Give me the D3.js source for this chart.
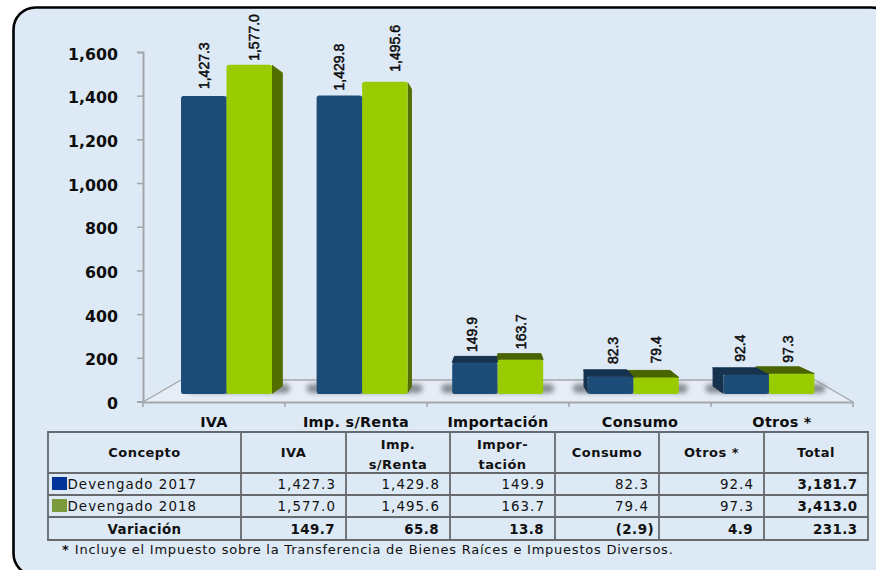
<!DOCTYPE html>
<html lang="es"><head><meta charset="utf-8">
<script src="https://cdn.jsdelivr.net/npm/d3@7/dist/d3.min.js"></script>
<style>html,body{margin:0;padding:0;background:#fff;overflow:hidden}svg{display:block}</style>
</head><body><svg id="c" width="876" height="570"></svg>
<script>
// ---- data ----
const categories = ["IVA","Imp. s/Renta","Importación","Consumo","Otros *"];
const seriesNames = ["Devengado 2017","Devengado 2018"];
const values2017 = [1427.3,1429.8,149.9,82.3,92.4];
const values2018 = [1577.0,1495.6,163.7,79.4,97.3];
const variation = [149.7,65.8,13.8,-2.9,4.9];
const totals2017 = 3181.7, totals2018 = 3413.0, totalVariation = 231.3;
const yTicks = [0,200,400,600,800,1000,1200,1400,1600];
const tableHeader = ["Concepto","IVA",["Imp.","s/Renta"],["Impor-","tación"],"Consumo","Otros *","Total"];
const footnoteMark = "*";
const footnote = "Incluye el Impuesto sobre la Transferencia de Bienes Raíces e Impuestos Diversos.";

// ---- layout / style ----
const svg = d3.select("#c");
const F = "'DejaVu Sans',Verdana,sans-serif";
const BG = "#dde9f5", AX = "#a3a7ab", GRID = "#666a6e";
const defs = svg.append("defs");
defs.append("filter").attr("id","sh").attr("x","-30%").attr("y","-80%").attr("width","160%").attr("height","260%")
  .append("feGaussianBlur").attr("stdDeviation",2.8);
defs.append("filter").attr("id","soft").append("feGaussianBlur").attr("stdDeviation",0.45);

svg.append("rect").attr("x",13.5).attr("y",7.5).attr("width",880).attr("height",568).attr("rx",22)
  .attr("fill",BG).attr("stroke","#000").attr("stroke-width",2.6);

const yAxisScale = d3.scaleLinear().domain([0,1600]).range([401.5,52]);
const yFront = d3.scaleLinear().domain([0,1600]).range([394,60]);
const xAxisScale = d3.scaleBand().domain(categories).range([143,853]);
const xGroup = d3.scaleBand().domain(categories).range([158.7,836.7]);
const xInner = d3.scaleBand().domain(seriesNames).range([-45.5,45.5]);
const VX = 498, VY = 231, K = 0.048;
const back = (x,y)=>[x+(VX-x)*K, y+(VY-y)*K];

// floor
const floorY = 402, backY = 380;
svg.append("polygon").attr("points",[[143,floorY],[181,backY],[815,backY],[853,floorY]].join(" "))
  .attr("fill","#e6edf6").attr("stroke","none");

svg.append("path").attr("d",`M181,${backY}H815`).attr("stroke",AX).attr("stroke-width",1.6).attr("fill","none");
svg.append("path").attr("d",`M143,${floorY}L181,${backY}M815,${backY}L853,${floorY}`).attr("stroke",AX).attr("stroke-width",1.4).attr("fill","none");

// shadows
const cx = c=>xGroup(c)+xGroup.bandwidth()/2;
const shadowLeft = [-6,10,11,15,18];
const shadowRight = [18,15,11,9,11];
svg.append("g").selectAll("rect").data(categories).join("rect")
  .attr("x",(c,i)=>cx(c)-45.5-shadowLeft[i])
  .attr("y",384).attr("rx",5)
  .attr("width",(c,i)=>91+shadowLeft[i]+shadowRight[i])
  .attr("height",9)
  .attr("fill","#868c93").attr("filter","url(#sh)");

// axes
const ya = svg.append("g").attr("transform","translate(143,0)")
  .call(d3.axisLeft(yAxisScale).tickValues(yTicks).tickFormat(d3.format(",")).tickSize(6).tickPadding(19));
ya.select(".domain").attr("stroke",AX).attr("stroke-width",2);
ya.selectAll(".tick line").attr("stroke",AX).attr("stroke-width",1.5);
ya.selectAll("text").attr("font-family",F).attr("font-size",15.8).attr("font-weight","bold").attr("fill","#0d0d0d").attr("y",2);

const xa = svg.append("g").attr("transform",`translate(0,${floorY})`)
  .call(d3.axisBottom(xAxisScale).tickSize(0).tickPadding(15));
xa.select(".domain").attr("stroke",AX).attr("stroke-width",2);
xa.selectAll("text").attr("font-family",F).attr("font-size",14.4).attr("font-weight","bold").attr("fill","#0d0d0d").attr("letter-spacing",0.3);
const edges = categories.map(c=>xAxisScale(c)).concat([xAxisScale.range()[1]]);
xa.selectAll("line.edge").data(edges).join("line").attr("class","edge")
  .attr("x1",d=>d).attr("x2",d=>d).attr("y1",0).attr("y2",5).attr("stroke",AX).attr("stroke-width",1.6);

// 3-D bars
const colours = {
  [seriesNames[0]]:{front:"#1f4e79",top:"#12304e",side:"#12304e"},
  [seriesNames[1]]:{front:"#99cc00",top:"#4a6400",side:"#536e00"}
};
const rows = categories.flatMap((c,i)=>[
  {c,i,s:seriesNames[0],v:values2017[i]},
  {c,i,s:seriesNames[1],v:values2018[i]}
]);
const geom = d=>{
  const x0 = cx(d.c)+xInner(d.s), x1 = x0+xInner.bandwidth(), yt = yFront(d.v), yb = yFront(0);
  return {x0,x1,yt,yb};
};
// back-most bars first
const ordered = rows.slice().sort((a,b)=>Math.abs(cx(b.c)+xInner(b.s)+22-VX)-Math.abs(cx(a.c)+xInner(a.s)+22-VX));
const bars = svg.append("g").attr("filter","url(#soft)");
ordered.forEach(d=>{
  const {x0,x1,yt,yb} = geom(d), col = colours[d.s];
  const g = bars.append("g");
  const sideX = x1<VX ? x1 : x0;
  if (Math.abs(sideX-VX)>3 && (x1<VX || x0>VX)) {
    const a=back(sideX,yt), b=back(sideX,yb);
    g.append("polygon").attr("points",[[sideX,yt],a,b,[sideX,yb]].join(" ")).attr("fill",col.side);
  }
  const tl=back(x0,yt), tr=back(x1,yt);
  if (tl[1]<yt) g.append("polygon").attr("points",[[x0,yt],tl,tr,[x1,yt]].join(" "))
    .attr("fill",col.top).attr("stroke",col.top).attr("stroke-width",1).attr("stroke-linejoin","round");
  g.append("rect").attr("x",x0).attr("y",yt).attr("width",x1-x0).attr("height",yb-yt).attr("rx",2.5).attr("fill",col.front);
});

// value labels (rotated) – placement nudges follow the picture
const labelNudgeX = [0,5,0,10,-3,1,2,0,-6,-4];
const labelGap = [7,4,5,10,10.7,10.7,12.7,14,13,11];
svg.append("g").selectAll("text").data(rows).join("text")
  .attr("transform",(d,i)=>{const g=geom(d);return `translate(${(g.x0+g.x1)/2+labelNudgeX[i]+5},${g.yt-labelGap[i]}) rotate(-90)`;})
  .attr("font-family","'Liberation Sans',Arial,sans-serif").attr("font-size",14).attr("fill","#0a0a0a")
  .attr("stroke","#0a0a0a").attr("stroke-width",0.5)
  .text(d=>d3.format(",.1f")(d.v));

// table
const colX = [48,241,346,450,555,659,764,868];
const rowY = [432,473,495,517,540];
const T = svg.append("g");
const fmt = v=> v<0 ? `(${d3.format(",.1f")(-v)})` : d3.format(",.1f")(v);
T.selectAll("line.v").data(colX).join("line").attr("class","v")
  .attr("x1",d=>d).attr("x2",d=>d).attr("y1",rowY[0]).attr("y2",rowY[4]).attr("stroke",GRID).attr("stroke-width",1.8);
T.selectAll("line.h").data(rowY).join("line").attr("class","h")
  .attr("x1",colX[0]-.9).attr("x2",colX[7]+.9).attr("y1",d=>d).attr("y2",d=>d).attr("stroke",GRID).attr("stroke-width",1.8);

const cellFont = (s,bold,size)=>s.attr("font-family",F).attr("font-size",size||13.4)
  .attr("font-weight",bold?"bold":"normal").attr("fill","#111").attr("letter-spacing",bold?0.45:1.05);
tableHeader.forEach((h,i)=>{
  const mid=(colX[i]+colX[i+1])/2;
  const lines=Array.isArray(h)?h:[h];
  lines.forEach((t,j)=>{
    const y = lines.length===1 ? 452 : (j===0?444:464);
    cellFont(T.append("text").attr("x",mid).attr("y",y).attr("dy","0.35em").attr("text-anchor","middle").text(t),true,13);
  });
});
const swatch = ["#003399","#7a9a3c"];
[[values2017,totals2017],[values2018,totals2018]].forEach(([vals,tot],r)=>{
  const yc=[484,506][r];
  T.append("rect").attr("x",52).attr("y",yc-7).attr("width",15).attr("height",13).attr("fill",swatch[r]);
  cellFont(T.append("text").attr("x",67.5).attr("y",yc).attr("dy","0.35em").text(seriesNames[r]),false);
  vals.forEach((v,i)=>cellFont(T.append("text").attr("x",colX[i+2]-10).attr("y",yc).attr("dy","0.35em").attr("text-anchor","end").text(fmt(v)),false));
  cellFont(T.append("text").attr("x",colX[7]-10.5).attr("y",yc).attr("dy","0.35em").attr("text-anchor","end").text(fmt(tot)),true);
});
cellFont(T.append("text").attr("x",(colX[0]+colX[1])/2).attr("y",529).attr("dy","0.35em").attr("text-anchor","middle").text("Variación"),true);
variation.forEach((v,i)=>cellFont(T.append("text").attr("x",colX[i+2]-(v<0?5:11)).attr("y",529).attr("dy","0.35em").attr("text-anchor","end").text(fmt(v)),true));
cellFont(T.append("text").attr("x",colX[7]-10.5).attr("y",529).attr("dy","0.35em").attr("text-anchor","end").text(fmt(totalVariation)),true);

// footnote
const fn = svg.append("text").attr("x",62).attr("y",549).attr("dy","0.35em").attr("font-family",F).attr("font-size",13).attr("fill","#111").attr("letter-spacing",0.76);
fn.append("tspan").attr("font-weight","bold").text(footnoteMark+" ");
fn.append("tspan").text(footnote);
</script></body></html>
